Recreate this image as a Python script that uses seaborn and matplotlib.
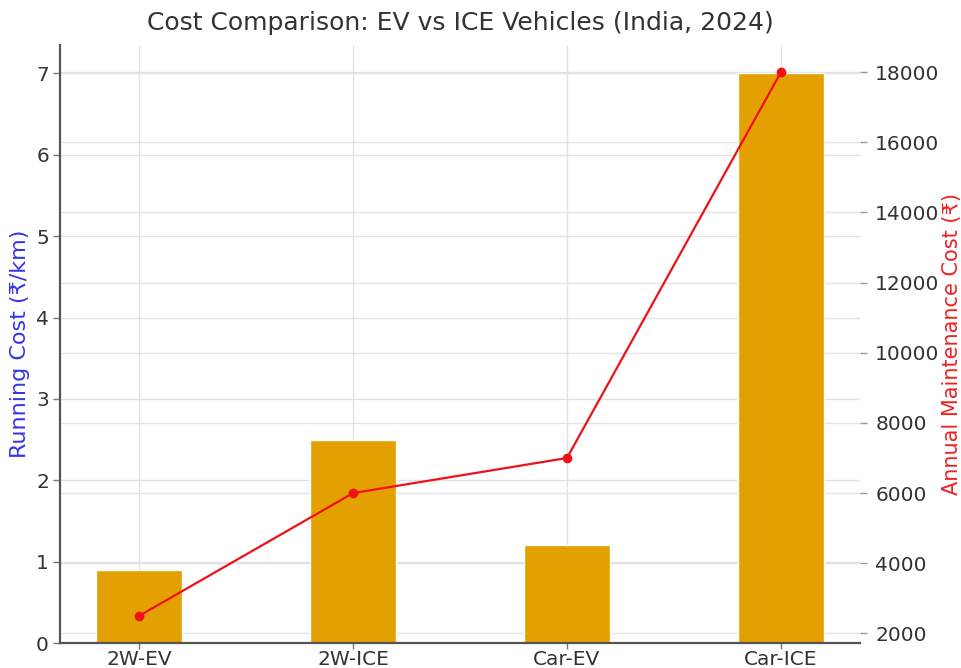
import numpy as np
import matplotlib
matplotlib.use("Agg")
import matplotlib.pyplot as plt
import seaborn as sns

categories = ["2W-EV", "2W-ICE", "Car-EV", "Car-ICE"]
running_cost = [0.9, 2.5, 1.2, 7.0]
maintenance_cost = [2500, 6000, 7000, 18000]
left_ticks = [0, 1, 2, 3, 4, 5, 6, 7]
right_ticks = [2000, 4000, 6000, 8000, 10000, 12000, 14000, 16000, 18000]

sns.set_style("whitegrid")
plt.rcParams["font.family"] = ["DejaVu Sans"]

fig = plt.figure(figsize=(9.62, 6.68), dpi=100, facecolor="white")
rect = [0.0624, 0.0374, 0.8316, 0.8952]

ax1 = fig.add_axes(rect)
ax3 = ax1.twinx()   # grid for right axis (kept beneath bars)
ax2 = ax1.twinx()   # right axis with line

ax3.set_zorder(0)
ax1.set_zorder(1)
ax2.set_zorder(2)
for a in (ax1, ax2, ax3):
    a.patch.set_visible(False)

bar_color = "#E3A000"
sns.barplot(x=categories, y=running_cost, color=bar_color, saturation=1,
            width=0.4, ax=ax1, zorder=2)
ax1.set_xlim(-0.37, len(categories) - 1 + 0.37)
ax1.set_ylim(0, max(running_cost) * 1.05)
ax1.set_yticks(left_ticks)

xpos = np.arange(len(categories))
sns.lineplot(x=xpos, y=maintenance_cost, ax=ax2, color="#F01018",
             marker="o", markersize=7, markeredgewidth=0, linewidth=1.6)
lo, hi = min(maintenance_cost), max(maintenance_cost)
pad = (hi - lo) * 0.05
ax2.set_ylim(lo - pad, hi + pad)
ax2.set_yticks(right_ticks)
ax2.grid(False)
ax2.set_xlim(ax1.get_xlim())

ax3.set_ylim(ax2.get_ylim())
ax3.set_yticks(right_ticks)
ax3.tick_params(axis="y", right=False, labelright=False, left=False, labelleft=False)
ax3.grid(True, axis="y", color="#e4e4e4", linewidth=1.0)
ax3.grid(False, axis="x")
ax3.set_xlim(ax1.get_xlim())

grid_c = "#e2e2e2"
ax1.grid(True, color=grid_c, linewidth=1.0)
ax1.set_axisbelow(True)

for a in (ax1, ax2, ax3):
    for s in a.spines.values():
        s.set_visible(False)
ax1.spines["left"].set_visible(True)
ax1.spines["bottom"].set_visible(True)
ax1.spines["left"].set_color("#555555")
ax1.spines["bottom"].set_color("#555555")
ax1.spines["left"].set_linewidth(1.6)
ax1.spines["bottom"].set_linewidth(1.6)

tick_c = "#333333"
ax1.tick_params(axis="y", left=True, length=5, width=1, color="#777777",
                labelsize=14.5, labelcolor=tick_c, pad=3)
ax1.tick_params(axis="x", bottom=True, length=4, width=1, color="#777777",
                labelsize=14.5, labelcolor=tick_c, pad=1)
ax2.tick_params(axis="y", right=True, length=5, width=1, color="#999999",
                labelsize=14.5, labelcolor=tick_c, pad=6)

ax1.set_xlabel("")
ax1.set_ylabel("Running Cost (₹/km)", color="#3535e8", fontsize=16, labelpad=4)
ax2.set_ylabel("Annual Maintenance Cost (₹)", color="#ee2222", fontsize=15, labelpad=2)
ax1.set_title("Cost Comparison: EV vs ICE Vehicles (India, 2024)",
              fontsize=18, color="#333333", pad=11)

fig.savefig("out.png", dpi=100, facecolor="white")
